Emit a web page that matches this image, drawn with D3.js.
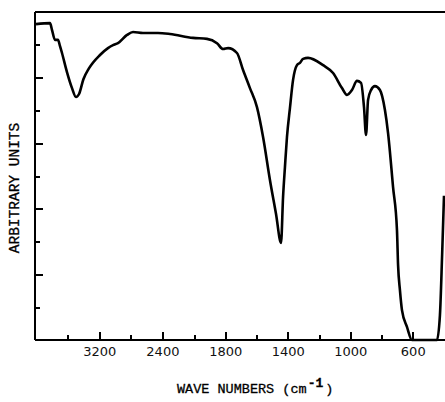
<html lang="en">
<head>
<meta charset="utf-8">
<title>IR spectrum</title>
<style>
    body { margin: 0; background-color: white; }
    svg { background-color: white; display: block; }
    .frame { stroke: black; stroke-width: 2; shape-rendering: crispEdges; }
    .axis path { display: none; }
    .axis line { stroke: black; stroke-width: 2; shape-rendering: crispEdges; }
    .axis text { font-family: "DejaVu Sans", sans-serif; font-size: 13px; fill: #111; }
    .title { font-family: "Liberation Mono", "DejaVu Sans Mono", monospace; fill: #000; stroke: #000; stroke-width: 0.3; }
</style>
</head>
<body>
<script src="https://cdnjs.cloudflare.com/ajax/libs/d3/7.8.5/d3.min.js"></script>
<script>
// spectrum (wave number in cm-1, arbitrary units 0..10)
var waveNumbers = [4000, 3823, 3797, 3760, 3722, 3696, 3671, 3608, 3544, 3494, 3455, 3400, 3330, 3190, 3089, 3025, 2962, 2848, 2772, 2646, 2456, 2304, 2013,
                   1917, 1853, 1814, 1782, 1725, 1686, 1642, 1597, 1558, 1514, 1475, 1443, 1430, 1418, 1405, 1386, 1366, 1341, 1322, 1302, 1270, 1174, 1110,
                   1053, 1021, 989, 957, 931, 912, 899, 886, 867, 842, 810, 778, 758, 726, 701, 694, 682, 669, 637, 605, 445, 426, 412, 400];
var units =       [9.63, 9.66, 9.45, 9.15, 9.15, 8.96, 8.75, 8.17, 7.68, 7.41, 7.50, 7.95, 8.28, 8.69, 8.90, 8.99, 9.05, 9.30, 9.39, 9.36, 9.36, 9.33, 9.21,
                   9.18, 9.05, 8.87, 8.90, 8.75, 8.23, 7.68, 7.10, 6.19, 4.88, 3.84, 2.96, 4.36, 5.27, 6.19, 7.07, 7.93, 8.38, 8.45, 8.57, 8.60, 8.38, 8.14,
                   7.68, 7.47, 7.62, 7.90, 7.84, 7.10, 6.25, 7.32, 7.62, 7.74, 7.62, 7.01, 6.31, 4.66, 3.35, 2.29, 1.52, 0.91, 0.40, 0.0, 0.0, 0.76, 2.6, 4.4];

var majorTicks = [3200, 2400, 1800, 1400, 1000, 600];
var minorTicks = [3600, 2800, 2000, 1600, 1200, 800];
var yMajor = [2, 4, 6, 8];
var yMinor = [1, 3, 5, 7, 9];

var fullwidth = 445;
var fullheight = 402;

var svg = d3.select("body")
            .append("svg")
            .attr("width", fullwidth)
            .attr("height", fullheight);

// the scale changes at 2000 cm-1
var xScale = d3.scaleLinear()
                .domain([4000, 2000, 400])
                .range([36, 194, 444]);

var yScale = d3.scaleLinear()
                .domain([0, 10])
                .range([340, 12]);

var data = waveNumbers.map(function(w, i) {
    return { wn: w, u: units[i] };
});

// frame: left, bottom, top
svg.append("line").attr("class", "frame")
    .attr("x1", 35).attr("x2", 35).attr("y1", yScale(10)).attr("y2", yScale(0));
svg.append("line").attr("class", "frame")
    .attr("x1", 35).attr("x2", fullwidth).attr("y1", yScale(0)).attr("y2", yScale(0));
svg.append("line").attr("class", "frame")
    .attr("x1", 35).attr("x2", fullwidth).attr("y1", yScale(10)).attr("y2", yScale(10));

// x ticks, pointing inwards
svg.append("g")
    .attr("class", "x axis")
    .attr("transform", "translate(0," + yScale(0) + ")")
    .call(d3.axisBottom(xScale).tickValues(majorTicks).tickSizeInner(-8).tickSizeOuter(0).tickPadding(7).tickFormat(d3.format("d")));

svg.append("g")
    .attr("class", "x axis")
    .attr("transform", "translate(0," + yScale(0) + ")")
    .call(d3.axisBottom(xScale).tickValues(minorTicks).tickSizeInner(-5).tickSizeOuter(0).tickFormat(""));

// y ticks, pointing inwards
svg.append("g")
    .attr("class", "y axis")
    .attr("transform", "translate(35,0)")
    .call(d3.axisLeft(yScale).tickValues(yMajor).tickSizeInner(-8).tickSizeOuter(0).tickFormat(""));

svg.append("g")
    .attr("class", "y axis")
    .attr("transform", "translate(35,0)")
    .call(d3.axisLeft(yScale).tickValues(yMinor).tickSizeInner(-5).tickSizeOuter(0).tickFormat(""));

// spectrum
var line = d3.line()
                .x(function(d) { return xScale(d.wn); })
                .y(function(d) { return yScale(d.u); })
                .curve(d3.curveMonotoneX);

svg.append("path")
    .datum(data)
    .attr("d", line)
    .attr("fill", "none")
    .attr("stroke", "black")
    .attr("stroke-width", 2.6)
    .attr("stroke-linejoin", "round");

// labels
svg.append("text")
    .attr("class", "title")
    .attr("transform", "translate(19,188) rotate(-90)")
    .attr("text-anchor", "middle")
    .style("font-size", "14.5px")
    .text("ARBITRARY UNITS");

var xlab = svg.append("text")
    .attr("class", "title")
    .attr("x", 177)
    .attr("y", 393)
    .style("font-size", "13.5px");
xlab.append("tspan").text("WAVE NUMBERS (cm");
xlab.append("tspan").attr("dy", -6).attr("dx", 1).style("font-weight", "bold").style("font-size", "13px").text("-1");
xlab.append("tspan").attr("dy", 6).attr("dx", 2).text(")");
</script>
</body>
</html>
